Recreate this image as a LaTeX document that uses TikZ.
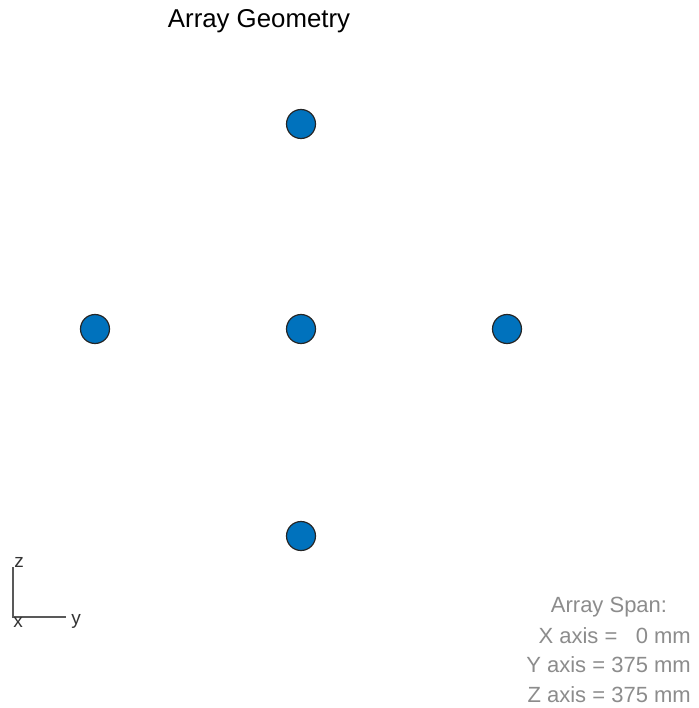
\documentclass[tikz,border=0pt]{standalone}
\usepackage{fontspec}
\setmainfont{Liberation Sans}
\begin{document}
\begin{tikzpicture}[x=1pt,y=-1pt,
  elem/.style={circle,draw=black!85,line width=1.2pt,fill={rgb,255:red,0;green,114;blue,189},minimum size=29pt,inner sep=0pt},
  axisline/.style={draw=black!65,line width=2.4pt},
  axislbl/.style={font=\fontsize{19}{22}\selectfont,text=black!80,inner sep=0pt},
  span/.style={font=\fontsize{22}{25}\selectfont,text=black!45,inner sep=0pt}]
\useasboundingbox (0,0) rectangle (698,708);
\node[font=\fontsize{25.8}{29}\selectfont,inner sep=0pt] (title) at (259,21) {Array Geometry};
\node[elem] (e1) at (301,124) {};
\node[elem] (e2) at (95,329) {};
\node[elem] (e3) at (301,329) {};
\node[elem] (e4) at (507,329) {};
\node[elem] (e5) at (301,536) {};
\coordinate (o) at (13,617);
\coordinate (zt) at (13,567);
\coordinate (yt) at (66,617);
\draw[axisline] (zt) -- (o) -- (yt);
\node[axislbl] (zl) at (19,562) {z};
\node[axislbl] (xl) at (18,622) {x};
\node[axislbl] (yl) at (76,621) {y};
\node[span] (s0) at (609,607) {Array Span:};
\node[span,anchor=east] (s1) at (691,636) {X axis =\ \ \ 0 mm};
\node[span,anchor=east] (s2) at (691,665) {Y axis = 375 mm};
\node[span,anchor=east] (s3) at (691,695) {Z axis = 375 mm};
\end{tikzpicture}
\end{document}
